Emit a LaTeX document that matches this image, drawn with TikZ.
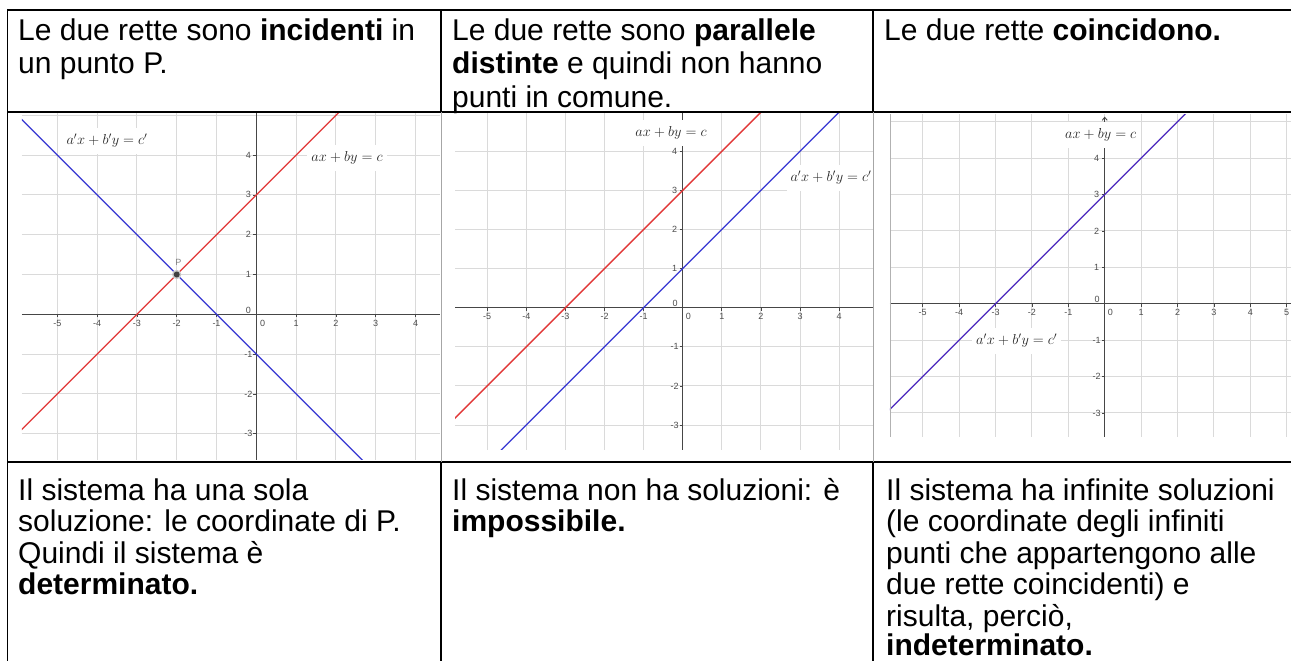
\documentclass[tikz,border=0pt]{standalone}
\usepackage[no-math]{fontspec}
\setmainfont{Liberation Sans}
\usetikzlibrary{arrows.meta}
\definecolor{gline}{RGB}{218,218,218}
\definecolor{axc}{RGB}{70,70,70}
\definecolor{redline}{RGB}{225,55,55}
\definecolor{blueline}{RGB}{55,55,210}
\definecolor{purpline}{RGB}{75,40,190}
\begin{document}
\begin{tikzpicture}[x=1pt,y=-1pt,
  txt/.style={anchor=base west, inner sep=0pt, font=\fontsize{30}{32.5}\selectfont},
  tableline/.style={line width=1.6pt, black},
  graphsep/.style={line width=1pt, gray!70},
  gridln/.style={line width=0.9pt, gline},
  axisln/.style={line width=0.9pt, axc},
  tickln/.style={line width=0.7pt, axc},
  ticklab/.style={font=\fontsize{9}{10}\selectfont, text=black!70, inner sep=0pt},
  eqlab/.style={font=\fontsize{14}{15}\selectfont, fill=white, inner xsep=4pt, inner ysep=6.5pt, text=black!85},
  redl/.style={line width=1.3pt, redline},
  bluel/.style={line width=1.3pt, blueline},
  purpl/.style={line width=1.3pt, purpline}
]
\useasboundingbox (0,0) rectangle (1291,661);
\fill[white] (0,0) rectangle (1291,661);

% ---------- Graph 1 ----------
\begin{scope}[shift={(256.3pt,-314.3pt)}, x=39.8pt, y=39.8pt]
  \clip (-5.89,-3.66) rectangle (4.62,5.08);
  \foreach \i in {-5,...,4} \draw[gridln] (\i,-3.66) -- (\i,5.08);
  \foreach \j in {-3,...,5} \draw[gridln] (-5.89,\j) -- (4.62,\j);
  \draw[axisln] (-5.89,0) -- (4.62,0);
  \draw[axisln] (0,-3.66) -- (0,5.08);
  \foreach \i in {-5,...,-1,1,2,3,4} {
    \draw[tickln] (\i,0) -- ++(0,-3pt);
    \node[ticklab, yshift=-9pt] at (\i,0) {\i};
  }
  \foreach \j in {-3,...,-1,1,2,3,4} {
    \draw[tickln] (0,\j) -- ++(-3pt,0);
    \node[ticklab, xshift=-8pt] at (0,\j) {\j};
  }
  \node[ticklab, xshift=6.4pt, yshift=-9pt] (g1ox) at (0,0) {0};
  \node[ticklab, xshift=-8pt, yshift=4.3pt] (g1oy) at (0,0) {0};
  \draw[redl] (-6,-3) -- (3,6);
  \draw[bluel] (-6,5) -- (3,-4);
  \fill[gray!45] (-2,1) circle (4.6pt);
  \fill[black!75] (-2,1) circle (3pt);
  \node[ticklab, text=gray] (P) at (-1.96,1.31) {P};
\end{scope}
\node[eqlab] (g1b) at (107,141) {$a'x+b'y=c'$};
\node[eqlab] (g1r) at (347,158) {$ax+by=c$};

% ---------- Graph 2 ----------
\begin{scope}[shift={(682.7pt,-307.7pt)}, x=39.1pt, y=39.1pt]
  \clip (-5.82,-3.63) rectangle (4.89,5.0);
  \foreach \i in {-5,...,4} \draw[gridln] (\i,-3.63) -- (\i,5.0);
  \foreach \j in {-3,...,4} \draw[gridln] (-5.82,\j) -- (4.89,\j);
  \draw[axisln] (-5.82,0) -- (4.89,0);
  \draw[axisln] (0,-3.63) -- (0,5.0);
  \foreach \i in {-5,...,-1,1,2,3,4} {
    \draw[tickln] (\i,0) -- ++(0,-3pt);
    \node[ticklab, yshift=-9pt] at (\i,0) {\i};
  }
  \foreach \j in {-3,...,-1,1,2,3,4} {
    \draw[tickln] (0,\j) -- ++(-3pt,0);
    \node[ticklab, xshift=-8pt] at (0,\j) {\j};
  }
  \node[ticklab, xshift=5.6pt, yshift=-8.5pt] (g2ox) at (0,0) {0};
  \node[ticklab, xshift=-7.7pt, yshift=4.4pt] (g2oy) at (0,0) {0};
  \draw[redl] (-6,-3) -- (3,6);
  \draw[bluel] (-6,-5) -- (5,6);
\end{scope}
\node[eqlab] (g2r) at (671,133) {$ax+by=c$};
\node[eqlab] (g2b) at (831,178) {$a'x+b'y=c'$};

% ---------- Graph 3 ----------
\begin{scope}[shift={(1104.7pt,-303.7pt)}, x=36.4pt, y=36.4pt]
  \clip (-5.9,-3.66) rectangle (5.12,5.21);
  \foreach \i in {-5,...,5} \draw[gridln] (\i,-3.66) -- (\i,5.21);
  \foreach \j in {-3,...,5} \draw[gridln] (-5.9,\j) -- (5.12,\j);
  \draw[axisln] (-5.9,0) -- (5.12,0);
  \draw[axisln, -{Straight Barb[length=3pt,width=5pt]}] (0,-3.66) -- (0,5.14);
  \foreach \i in {-5,...,-1,1,2,3,4,5} {
    \draw[tickln] (\i,0) -- ++(0,-3pt);
    \node[ticklab, yshift=-9pt] at (\i,0) {\i};
  }
  \foreach \j in {-3,...,-1,1,2,3,4} {
    \draw[tickln] (0,\j) -- ++(-3pt,0);
    \node[ticklab, xshift=-8pt] at (0,\j) {\j};
  }
  \node[ticklab, xshift=5.6pt, yshift=-8.5pt] (g3ox) at (0,0) {0};
  \node[ticklab, xshift=-7.7pt, yshift=4.4pt] (g3oy) at (0,0) {0};
  \draw[purpl] (-6,-3) -- (3,6);
\end{scope}
\node[eqlab] (g3r) at (1100.7,135) {$ax+by=c$};
\node[eqlab] (g3b) at (1016.7,341) {$a'x+b'y=c'$};
\draw[line width=0.8pt, gray!60] (890,114) -- (890,437);

% ---------- Table lines ----------
\draw[line width=2pt] (7,10) -- (1291,10);
\draw[tableline] (7,112) -- (1291,112);
\draw[tableline] (7,462) -- (1291,462);
\draw[tableline] (7.5,9) -- (7.5,661);
\draw[tableline] (441,10) -- (441,112);
\draw[tableline] (873,10) -- (873,112);
\draw[graphsep] (441,112) -- (441,462);
\draw[graphsep] (873.5,112) -- (873.5,462);
\draw[tableline] (441,462) -- (441,661);
\draw[tableline] (873,462) -- (873,661);

% ---------- Header texts ----------
\node[txt] (h11) at (18,41) {Le due rette sono \textbf{incidenti} in};
\node[txt] (h12) at (18,74) {un punto P.};
\node[txt] (h21) at (452,41) {Le due rette sono \textbf{parallele}};
\node[txt] (h22) at (452,74) {\textbf{distinte} e quindi non hanno};
\node[txt] (h23) at (452,107) {punti in comune.};
\node[txt] (h31) at (884,41) {Le due rette \textbf{coincidono.}};

% ---------- Bottom texts ----------
\node[txt] (b11) at (18,500) {Il sistema ha una sola};
\node[txt] (b12) at (18,531.5) {soluzione: le coordinate di P.};
\node[txt] (b13) at (18,563) {Quindi il sistema è};
\node[txt] (b14) at (18,594.5) {\textbf{determinato.}};
\node[txt] (b21) at (452,500) {Il sistema non ha soluzioni: è};
\node[txt] (b22) at (452,531.5) {\textbf{impossibile.}};
\node[txt] (b31) at (886,500) {Il sistema ha infinite soluzioni};
\node[txt] (b32) at (886,531.5) {(le coordinate degli infiniti};
\node[txt] (b33) at (886,563) {punti che appartengono alle};
\node[txt] (b34) at (886,594.5) {due rette coincidenti) e};
\node[txt] (b35) at (886,626) {risulta, perciò,};
\node[txt] (b36) at (886,655.5) {\textbf{indeterminato.}};
\end{tikzpicture}
\end{document}
